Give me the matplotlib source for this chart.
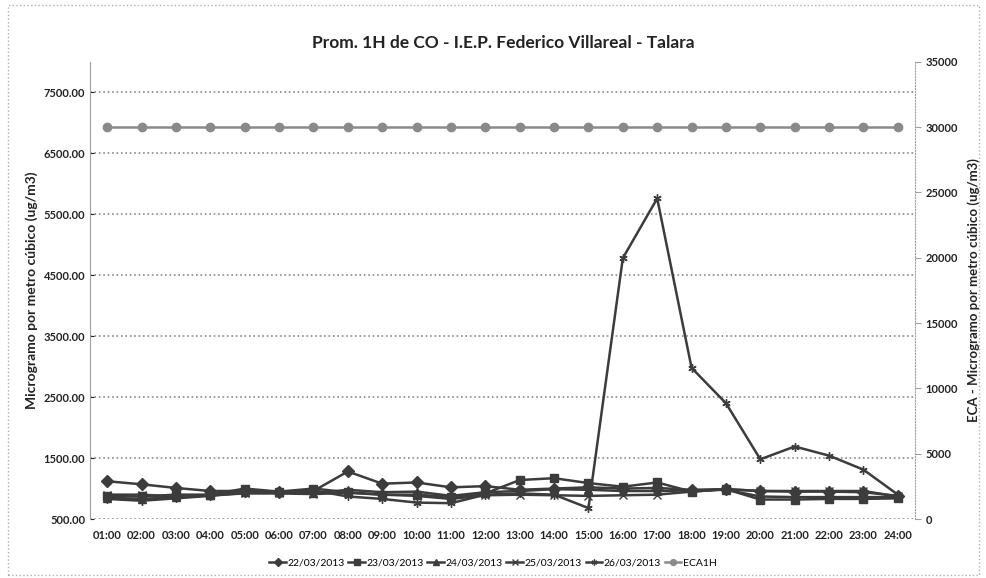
import matplotlib
matplotlib.use("Agg")
import matplotlib.pyplot as plt
from matplotlib.patches import Rectangle

plt.rcParams['font.family'] = ['Lato', 'DejaVu Sans']

hours = ["%02d:00" % h for h in range(1, 25)]

d22 = [1120, 1070, 1010, 960, 960, 950, 960, 1280, 1080, 1100, 1020, 1040,
       980, 1000, 1020, 1000, 1010, 980, 990, 960, 950, 950, 940, 880]
d23 = [880, 870, 900, 900, 1000, 950, 1000, 940, 900, 900, 860, 920,
       1140, 1170, 1090, 1030, 1100, 950, 990, 820, 820, 830, 830, 840]
d24 = [850, 830, 860, 900, 950, 940, 920, 980, 940, 950, 880, 940,
       960, 990, 980, 960, 960, 970, 980, 870, 860, 860, 860, 860]
d25 = [900, 900, 870, 890, 920, 920, 910, 930, 900, 880, 830, 890,
       900, 890, 880, 890, 900, 950, 990, 960, 960, 960, 960, 870]
d26 = [830, 800, 840, 880, 930, 930, 970, 870, 830, 770, 760, 900,
       920, 900, 680, 4780, 5760, 2980, 2400, 1480, 1690, 1540, 1310, 900]
eca = [30000] * 24

series = [("22/03/2013", d22, "D"), ("23/03/2013", d23, "s"),
          ("24/03/2013", d24, "^"), ("25/03/2013", d25, "x"),
          ("26/03/2013", d26, (6, 2, 0))]

fig = plt.figure(figsize=(9.86, 5.78), dpi=100)
ax = fig.add_axes([0.0913, 0.102, 0.8367, 0.791])
ax2 = ax.twinx()

x = list(range(len(hours)))
handles = []
dark = "#3c3c3c"
for name, vals, mk in series:
    h, = ax.plot(x, vals, color=dark, lw=1.8, marker=mk, ms=6,
                 mfc=dark, mec=dark, label=name)
    handles.append(h)
h, = ax2.plot(x, eca, color="#8a8a8a", lw=1.8, marker="o", ms=6,
              mfc="#8a8a8a", mec="#8a8a8a", label="ECA1H")
handles.append(h)

ax.set_xlim(-0.5, 23.5)
ax.set_ylim(500, 8000)
ax.set_yticks(range(500, 8000, 1000))
ax.set_yticklabels(["%.2f" % v for v in range(500, 8000, 1000)])
ax2.set_ylim(0, 35000)
ax2.set_yticks(range(0, 35001, 5000))
ax.set_xticks(x)
ax.set_xticklabels(hours)

for a in (ax, ax2):
    for s in a.spines.values():
        s.set_visible(False)
ax.spines['left'].set_visible(True)
ax.spines['left'].set_color("#a0a0a0")
ax2.spines['right'].set_visible(True)
ax2.spines['right'].set_color("#a0a0a0")
ax2.spines['right'].set_linestyle(":")

ax.yaxis.grid(True, color="#8a8a8a", ls=":", lw=1.2)
ax.set_axisbelow(True)
ax.tick_params(axis='x', length=0, labelsize=8, pad=8, colors="#222222")
ax.tick_params(axis='y', length=3, labelsize=8, colors="#222222", direction='in')
ax2.tick_params(axis='y', length=4, labelsize=8, colors="#222222", color="#a0a0a0")
for lab in ax.get_xticklabels() + ax.get_yticklabels() + ax2.get_yticklabels():
    lab.set_fontweight('bold')

ax.set_ylabel("Microgramo por metro cúbico (ug/m3)", fontsize=10,
              fontweight='bold', labelpad=4, color="#222222")
ax2.set_ylabel("ECA - Microgramo por metro cúbico (ug/m3)", fontsize=9.5,
               fontweight='bold', labelpad=7, color="#222222")

fig.text(0.51, 0.925, "Prom. 1H de CO - I.E.P. Federico Villareal - Talara",
         ha='center', va='center', fontsize=12.5, fontweight='bold', color="#222222")

fig.legend(handles=handles, loc='center', bbox_to_anchor=(0.5, 0.026), ncol=6,
           frameon=False, fontsize=7.5, handlelength=1.6, handletextpad=0.15,
           columnspacing=0.35, markerscale=0.7)

fig.patches.append(Rectangle((0.008, 0.006), 0.985, 0.985, transform=fig.transFigure,
                             fill=False, ec="#b0b0b0", ls=":", lw=1))

fig.savefig("out.png", dpi=100)
